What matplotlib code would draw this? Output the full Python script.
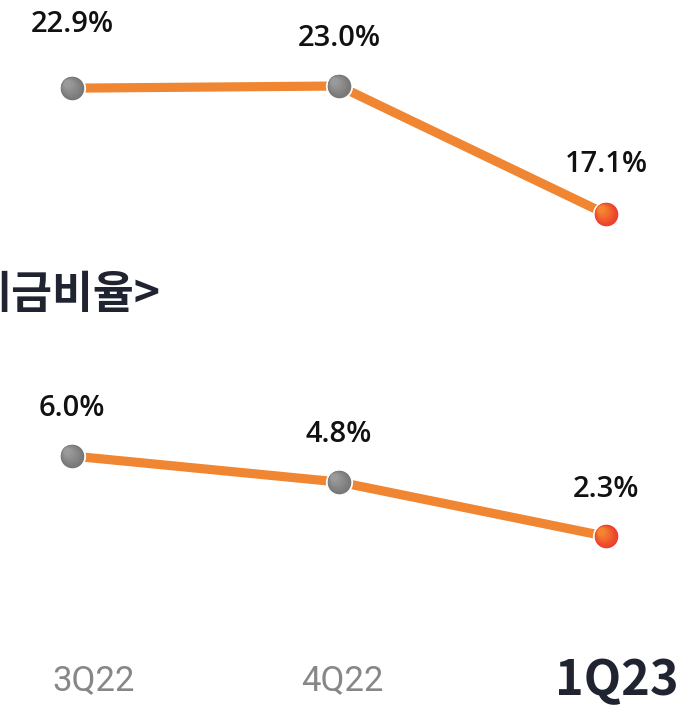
import matplotlib
matplotlib.use("Agg")
import matplotlib.pyplot as plt
from matplotlib import transforms
import numpy as np

quarters = ["3Q22", "4Q22", "1Q23"]
top_values = [22.9, 23.0, 17.1]
bottom_values = [6.0, 4.8, 2.3]
section_title = "<예금비율>"

KR = ["Noto Sans CJK KR", "Noto Sans CJK JP", "Noto Sans CJK SC", "DejaVu Sans"]
NARROW = ["Liberation Sans Narrow", "Roboto", "DejaVu Sans"]
NUM = ["Open Sans", "Noto Sans", "DejaVu Sans"]

W, H = 684, 706
fig = plt.figure(figsize=(W / 100, H / 100), dpi=100)
fig.patch.set_facecolor("white")

LINE = "#F08532"
GRAY_LIGHT, GRAY_DARK = "#9A9A9A", "#767676"
LAST_LIGHT, LAST_DARK = "#F5842F", "#EC3C2E"
DARK = "#1F2430"

px_per_unit_x = 267.0
x0 = 72.0
xlim = (-x0 / px_per_unit_x, (W - x0) / px_per_unit_x)
ppp = 21.7  # pixels per percentage point


def make_axes(top_px, bottom_px, anchor_val, anchor_px):
    ax = fig.add_axes([0, 1 - bottom_px / H, 1, (bottom_px - top_px) / H])
    ax.set_xlim(*xlim)
    ytop = anchor_val + (anchor_px - top_px) / ppp
    ybot = ytop - (bottom_px - top_px) / ppp
    ax.set_ylim(ybot, ytop)
    ax.axis("off")
    ax.patch.set_alpha(0)
    return ax


def mix(c1, c2, t):
    a = np.array(matplotlib.colors.to_rgb(c1))
    b = np.array(matplotlib.colors.to_rgb(c2))
    return tuple(a * (1 - t) + b * t)


def grad_marker(ax, x, v, light, dark, ms=17.0):
    ax.plot([x], [v], "o", ms=ms + 2.6, mfc="white", mec="white", mew=0, zorder=3)
    n = 14
    for k in range(n):
        t = k / (n - 1)
        size = ms * (1 - 0.7 * t)
        shift = (ms - size) / 2 * 0.6
        tr = transforms.offset_copy(ax.transData, fig=fig, x=-shift, y=shift, units="points")
        ax.plot([x], [v], "o", ms=size, mfc=mix(dark, light, t), mew=0,
                transform=tr, zorder=4 + k * 0.01)


def draw(ax, vals, offsets):
    xs = list(range(len(vals)))
    ax.plot(xs, vals, color=LINE, lw=6.6, solid_capstyle="butt", zorder=2)
    for i, (x, v) in enumerate(zip(xs, vals)):
        if i == len(vals) - 1:
            grad_marker(ax, x, v, LAST_LIGHT, LAST_DARK)
        else:
            grad_marker(ax, x, v, GRAY_LIGHT, GRAY_DARK)
    for x, v, off in zip(xs, vals, offsets):
        ax.annotate(f"{v:.1f}%", (x, v), xytext=(0, off), textcoords="offset points",
                    ha="center", va="center", fontsize=21, family=NUM,
                    fontweight="semibold", color="#111111")


ax1 = make_axes(0, 250, 23.0, 86)
draw(ax1, top_values, [46, 34, 36])

ax2 = make_axes(380, 600, 6.0, 456)
draw(ax2, bottom_values, [34, 34, 34])

fig.text(160 / W, 1 - 295 / H, section_title, ha="right", va="center",
         fontsize=32, fontweight="bold", family=KR, color=DARK)

label_px = [94, 342, 617]
for i, (q, lx) in enumerate(zip(quarters, label_px)):
    last = i == len(quarters) - 1
    fig.text(lx / W, 1 - 681 / H, q, ha="center", va="center",
             fontsize=35 if last else 25,
             fontweight="bold" if last else "normal",
             family=KR if last else NARROW,
             color=DARK if last else "#878787")

fig.savefig("out.png", dpi=100, facecolor="white")
